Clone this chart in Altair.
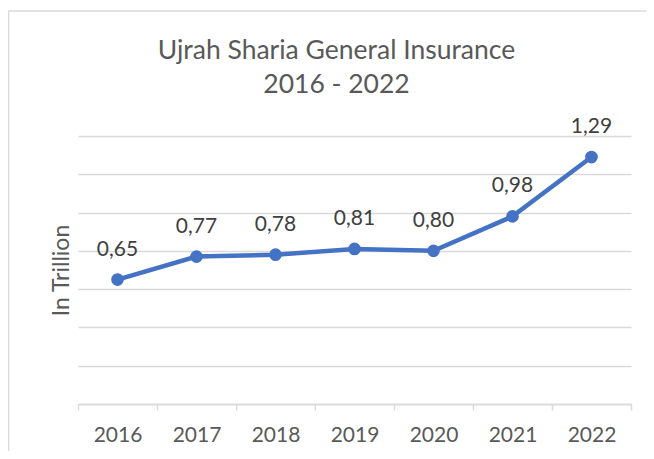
import altair as alt
import pandas as pd

years = ["2016", "2017", "2018", "2019", "2020", "2021", "2022"]
values = [0.65, 0.77, 0.78, 0.81, 0.80, 0.98, 1.29]
labels = [f"{v:.2f}".replace(".", ",") for v in values]
y_grid = [0, 0.2, 0.4, 0.6, 0.8, 1.0, 1.2, 1.4]

df = pd.DataFrame({"year": years, "value": values, "label": labels})

FONT = "Lato"
TXT = "#595959"
GRID = "#D9D9D9"
BLUE = "#4472C4"

x = alt.X("year:N", sort=years, title=None,
          scale=alt.Scale(paddingInner=0, paddingOuter=0),
          axis=alt.Axis(labelAngle=0, labelFont=FONT, labelFontSize=21, labelColor=TXT,
                        labelPadding=14, tickSize=6, tickColor=GRID, tickWidth=1.5,
                        tickBand="extent", domainColor=GRID, domainWidth=1.5, grid=False))
y = alt.Y("value:Q", title="In Trillion",
          scale=alt.Scale(domain=[0, 1.4], nice=False, zero=True),
          axis=alt.Axis(values=y_grid, labels=False, ticks=False, domain=False,
                        grid=True, gridColor=GRID, gridWidth=1.5,
                        titleFont=FONT, titleFontSize=23, titleColor=TXT,
                        titleFontWeight="normal", titlePadding=5))

base = alt.Chart(df)
line = base.mark_line(color=BLUE, strokeWidth=4.5).encode(x=x, y=y)
pts = base.mark_point(color=BLUE, filled=True, opacity=1, size=160).encode(x=x, y=y)
txt = base.mark_text(font=FONT, fontSize=21, color="#404040", dy=-30, baseline="middle").encode(
    x=x, y=y, text="label:N")

border = alt.Chart(pd.DataFrame({"a": [0]})).mark_rect(
    fill="white", fillOpacity=0, stroke=GRID, strokeWidth=1.5).encode(
    x=alt.value(-69.5), x2=alt.value(700), y=alt.value(-125), y2=alt.value(600))

chart = alt.layer(border, line, pts, txt).properties(
    width=553, height=268,
    autosize=alt.AutoSizeParams(type="none"),
    padding={"left": 70, "top": 128, "right": 15, "bottom": 47},
    title=alt.TitleParams(text=["Ujrah Sharia General Insurance", "2016 - 2022"],
                          font=FONT, fontSize=26.5, fontWeight="normal", color=TXT,
                          anchor="middle", dx=-18, offset=-88, lineHeight=34),
).configure_view(stroke=None)

chart.save("out.html", embed_options={"renderer": "svg", "actions": False})
